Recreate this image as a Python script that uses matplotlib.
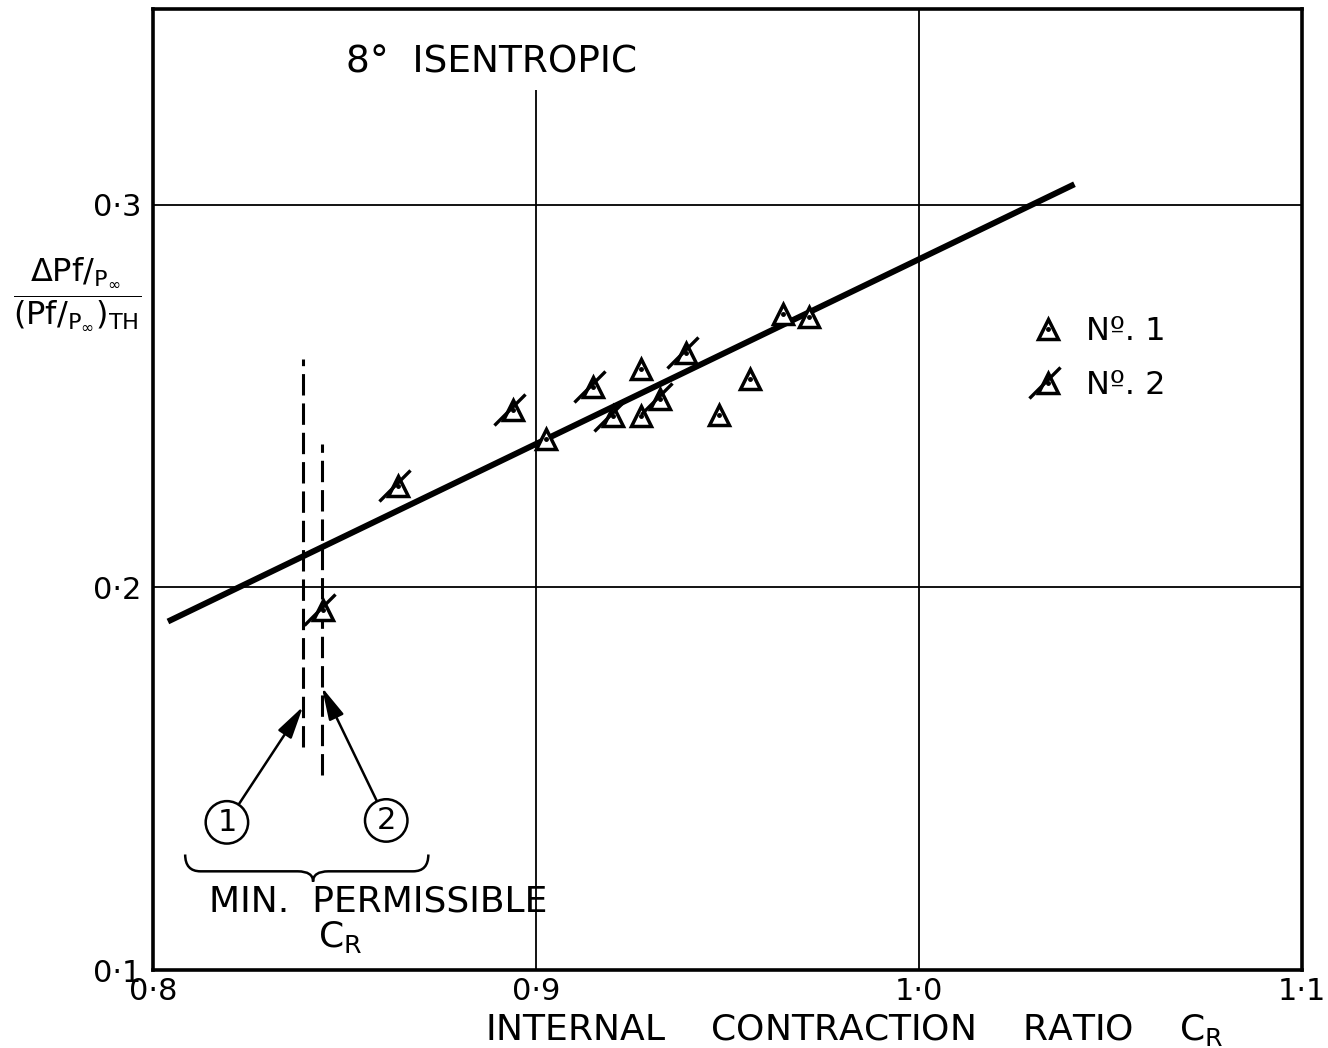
import matplotlib
matplotlib.use("Agg")
import matplotlib.pyplot as plt
from matplotlib.lines import Line2D
from matplotlib.path import Path
from matplotlib.patches import PathPatch
from matplotlib.legend_handler import HandlerTuple

plt.rcParams["font.family"] = ["DejaVu Sans"]
plt.rcParams["mathtext.fontset"] = "dejavusans"

# data
no1_cr = [0.9025, 0.9273, 0.9273, 0.9477, 0.9558, 0.9644, 0.9712]
no1_dp = [0.2387, 0.2570, 0.2447, 0.2452, 0.2546, 0.2714, 0.2708]

no2_cr = [0.8444, 0.8641, 0.8939, 0.9150, 0.9200, 0.9325, 0.9391]
no2_dp = [0.1942, 0.2264, 0.2465, 0.2523, 0.2447, 0.2492, 0.2614]

fit_cr = [0.8039, 1.0406]
fit_dp = [0.1911, 0.3054]

# minimum permissible C_R lines (1) and (2)
min_cr = [0.8392, 0.8441]
min_lo = [0.1582, 0.1511]
min_hi = [0.2596, 0.2374]
arrow_tip_y = [0.1689, 0.1739]
circle_cr = [0.8193, 0.8609]
circle_dp = [0.1386, 0.1391]
circle_txt = ["1", "2"]

xticks = [0.8, 0.9, 1.0, 1.1]
xtick_labels = ["0·8", "0·9", "1·0", "1·1"]
yticks = [0.1, 0.2, 0.3]
ytick_labels = ["0·1", "0·2", "0·3"]

fig = plt.figure(figsize=(13.28, 10.48), dpi=100)
ax = fig.add_axes([0.1152, 0.0744, 0.8652, 0.917])
ax.set_xlim(0.8, 1.1)
ax.set_ylim(0.1, 0.3512)

for s in ax.spines.values():
    s.set_linewidth(2.6)

# grid (hand drawn: 0.9 line stops below the title)
ax.vlines(0.9, 0.1, 0.330, color="black", lw=1.3)
ax.vlines(1.0, 0.1, 0.3512, color="black", lw=1.3)
ax.hlines([0.2, 0.3], 0.8, 1.1, color="black", lw=1.3)

ax.set_xticks(xticks)
ax.set_xticklabels(xtick_labels, fontsize=22)
ax.set_yticks(yticks)
ax.set_yticklabels(ytick_labels, fontsize=22)
ax.tick_params(axis="x", length=0, pad=5)
ax.tick_params(axis="y", length=0, pad=8)

# fitted line
ax.plot(fit_cr, fit_dp, color="black", lw=4.3, solid_capstyle="butt", zorder=3)

# markers
tri = dict(marker="^", ms=15, mfc="white", mec="black", mew=2.5, ls="none", zorder=4)
dot = dict(marker="o", ms=2.5, color="black", ls="none", zorder=5)
slash_path = Path([(-19, -15), (12, 16)], [Path.MOVETO, Path.LINETO])
slash = dict(marker=slash_path, ms=27.4, mec="black", mew=2.4, ls="none", zorder=6)

ax.plot(no1_cr, no1_dp, **tri)
ax.plot(no1_cr, no1_dp, **dot)
ax.plot(no2_cr, no2_dp, **tri)
ax.plot(no2_cr, no2_dp, **dot)
ax.plot(no2_cr, no2_dp, **slash)

# min permissible dashed lines + circled labels
for i in range(2):
    ax.vlines(min_cr[i], min_lo[i], min_hi[i], color="black", lw=2.2,
              linestyles=(0, (7, 2.6)))
    ax.annotate(circle_txt[i], xy=(min_cr[i], arrow_tip_y[i]),
                xytext=(circle_cr[i], circle_dp[i]), fontsize=22,
                ha="center", va="center",
                bbox=dict(boxstyle="circle,pad=0.22", fc="white", ec="black", lw=1.8),
                arrowprops=dict(arrowstyle="-|>,head_length=0.9,head_width=0.22",
                                color="black", lw=1.8, shrinkA=0, shrinkB=0))

# curly brace under the circles
bx0, bx1, btop, bmid, btip, bxm, br = 0.8084, 0.8719, 0.1302, 0.1258, 0.1231, 0.8418, 0.004
verts = [(bx0, btop), (bx0, bmid), (bx0 + br, bmid), (bxm - br, bmid),
         (bxm, bmid), (bxm, btip), (bxm, bmid), (bxm + br, bmid),
         (bx1 - br, bmid), (bx1, bmid), (bx1, btop)]
codes = [Path.MOVETO, Path.CURVE3, Path.CURVE3, Path.LINETO,
         Path.CURVE3, Path.CURVE3, Path.CURVE3, Path.CURVE3,
         Path.LINETO, Path.CURVE3, Path.CURVE3]
ax.add_patch(PathPatch(Path(verts, codes), fc="none", ec="black", lw=1.8))

ax.text(0.8587, 0.1178, "MIN.  PERMISSIBLE", fontsize=26, ha="center", va="center")
ax.text(0.8488, 0.1086, r"C$_\mathregular{R}$", fontsize=26, ha="center", va="center")

ax.text(0.8885, 0.3371, "8°  ISENTROPIC", fontsize=27, ha="center", va="center")

# axis labels
ax.text(0.610, -0.062, r"INTERNAL    CONTRACTION    RATIO    C$_\mathregular{R}$",
        transform=ax.transAxes, fontsize=26, ha="center", va="center")
fig.text(0.058, 0.72,
         r"$\dfrac{\Delta\mathrm{Pf}/_{\mathrm{P}_\infty}}{(\mathrm{Pf}/_{\mathrm{P}_\infty})_{\mathrm{TH}}}$",
         fontsize=23, ha="center", va="center")

# legend
h1 = (Line2D([], [], **tri), Line2D([], [], **dot))
h2 = (Line2D([], [], **tri), Line2D([], [], **dot), Line2D([], [], **slash))
ax.legend([h1, h2], ["Nº. 1", "Nº. 2"], handler_map={tuple: HandlerTuple()},
          loc="upper left", bbox_to_anchor=(0.737, 0.71), frameon=False,
          fontsize=23, handlelength=1.2, labelspacing=0.7, handletextpad=0.6)

fig.savefig("out.png", dpi=100)
